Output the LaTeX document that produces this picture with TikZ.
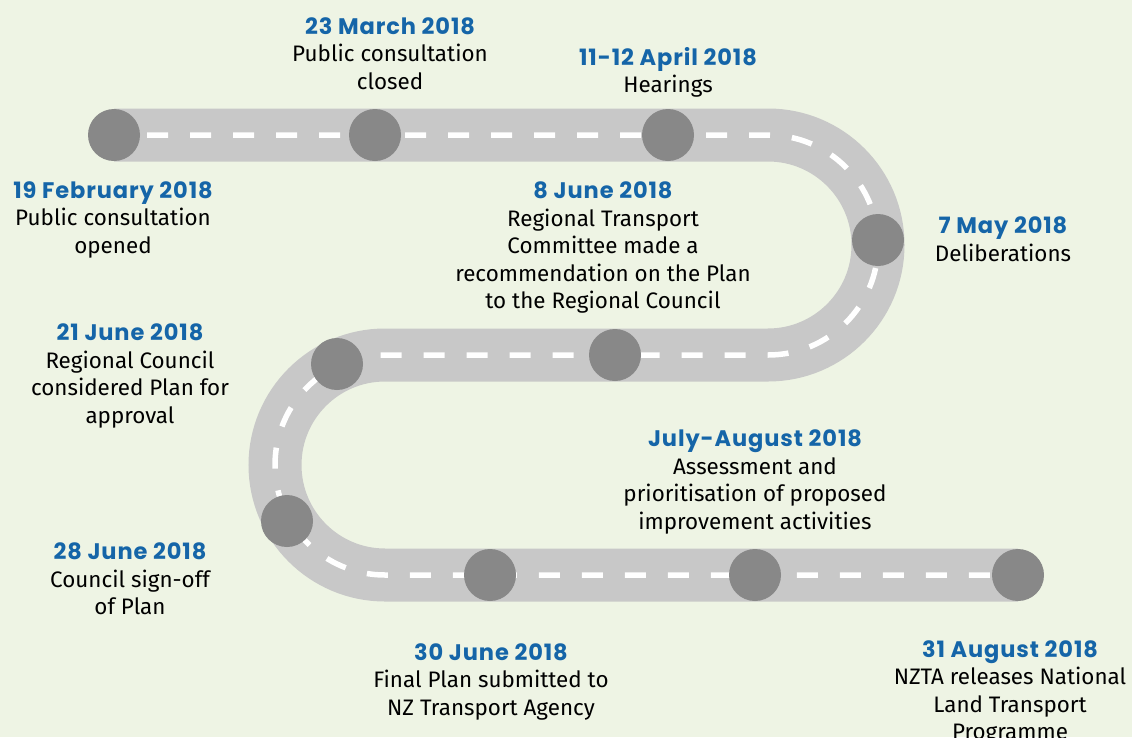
\documentclass[tikz,border=0pt]{standalone}
\usepackage{fontspec}
\setmainfont{Fira Sans}
\newfontfamily\datefont[LetterSpace=4]{Poppins}
\definecolor{bg}{HTML}{EEF4E4}
\definecolor{roadgrey}{HTML}{C8C8C8}
\definecolor{stopgrey}{HTML}{888888}
\definecolor{dateblue}{HTML}{1565A8}
\newcommand\evdate[1]{{\datefont\fontsize{22.5}{27.5}\selectfont\color{dateblue}\bfseries #1}}
\tikzset{
  road/.style={line width=53pt, draw=roadgrey},
  lane/.style={line width=5.5pt, draw=white, dash pattern=on 21pt off 22pt, dash phase=10pt},
  stop/.style={circle, fill=stopgrey, minimum size=52pt, inner sep=0pt},
  event/.style={align=center, anchor=north, inner sep=0pt, text=black,
    font=\fontsize{22.4}{27.5}\selectfont},
}
\begin{document}
\begin{tikzpicture}[x=1pt,y=1pt]
\fill[bg] (0,0) rectangle (1132,-737);
\useasboundingbox (0,0) rectangle (1132,-737);

% road corners
\coordinate (start) at (114,-135);
\coordinate (topturn) at (768,-135);
\coordinate (midturn) at (385,-355);
\coordinate (finish) at (1018,-575);

\foreach \s in {road,lane}{
  \draw[\s] (start) -- (topturn)
    arc[start angle=90, end angle=-90, radius=110pt]
    -- (midturn)
    arc[start angle=90, end angle=270, radius=110pt]
    -- (finish);
}

% milestones along the road
\node[stop] (s1) at (114,-135) {};
\node[stop] (s2) at (375,-135) {};
\node[stop] (s3) at (668,-135) {};
\node[stop] (s4) at (878,-240) {};
\node[stop] (s5) at (615,-355) {};
\node[stop] (s6) at (337,-364) {};
\node[stop] (s7) at (287,-521) {};
\node[stop] (s8) at (490,-575) {};
\node[stop] (s9) at (755,-575) {};
\node[stop] (s10) at (1018,-575) {};

% milestone descriptions
\node[event] (t1) at (113,-181) {\evdate{19 February 2018}\\Public consultation\\opened};
\node[event] (t2) at (390,-17) {\evdate{23 March 2018}\\Public consultation\\closed};
\node[event] (t3) at (668,-47) {\evdate{11-12 April 2018}\\Hearings};
\node[event] (t4) at (1003,-217) {\evdate{7 May 2018}\\Deliberations};
\node[event] (t5) at (603,-182) {\evdate{8 June 2018}\\Regional Transport\\Committee made a\\recommendation on the Plan\\to the Regional Council};
\node[event] (t6) at (130,-324) {\evdate{21 June 2018}\\Regional Council\\considered Plan for\\approval};
\node[event] (t7) at (130,-543) {\evdate{28 June 2018}\\Council sign-off\\of Plan};
\node[event] (t8) at (491,-643) {\evdate{30 June 2018}\\Final Plan submitted to\\NZ Transport Agency};
\node[event] (t9) at (755,-430) {\evdate{July-August 2018}\\Assessment and\\prioritisation of proposed\\improvement activities};
\node[event] (t10) at (1010,-640) {\evdate{31 August 2018}\\NZTA releases National\\Land Transport\\Programme};
\end{tikzpicture}
\end{document}
